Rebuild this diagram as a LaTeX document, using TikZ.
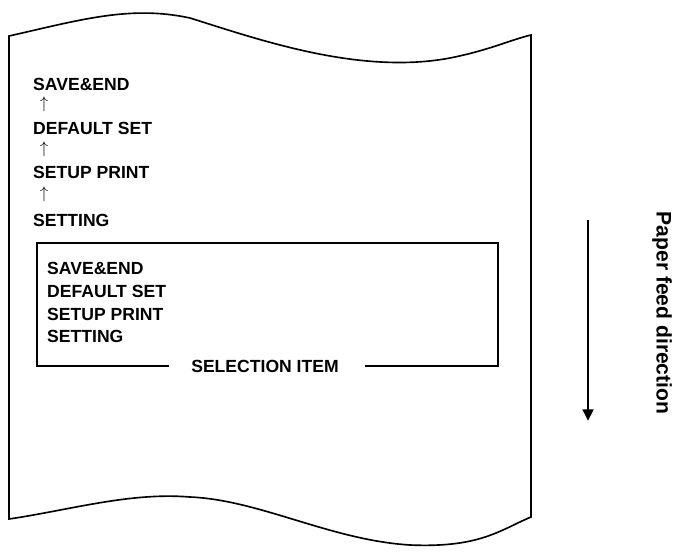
\documentclass[tikz,border=0pt]{standalone}
\usepackage{fontspec}
\setmainfont{Liberation Sans}
\usetikzlibrary{arrows.meta}
\tikzstyle{item}=[anchor=west, inner sep=0pt, font=\bfseries\fontsize{15}{17}\selectfont]
\tikzstyle{up}=[anchor=center, inner sep=0pt, font=\fontsize{14}{16}\selectfont]
\begin{document}
\begin{tikzpicture}[x=0.03cm, y=-0.03cm]
        \useasboundingbox (0,0) rectangle (678,551);
        % paper
        \draw[line width=1.4pt] (9,36) .. controls (80,20) and (130,5) .. (190,18)
            .. controls (260,40) and (360,75) .. (450,58)
            .. controls (490,50) and (510,40) .. (531,35) -- (531,517)
            .. controls (500,530) and (480,548) .. (410,545)
            .. controls (330,540) and (260,500) .. (190,497)
            .. controls (130,492) and (70,510) .. (9,519) -- cycle;
        % menu log
        \node[item] (save)    at (33,84)  {SAVE\&END};
        \node[up]   (a1)      at (44,104) {$\uparrow$};
        \node[item] (default) at (33,128) {DEFAULT SET};
        \node[up]   (a2)      at (44,149) {$\uparrow$};
        \node[item] (setup)   at (33,172) {SETUP PRINT};
        \node[up]   (a3)      at (44,194) {$\uparrow$};
        \node[item] (setting) at (33,220) {SETTING};
        % selection box
        \node[item] (sel) at (265,366) [anchor=center] {SELECTION ITEM};
        \draw[line width=0.9pt] (sel.west) ++(-22,0) coordinate (sl) -- (37,366) -- (37,243)
            -- (498,243) -- (498,366) -- ([xshift=22]sel.east |- sel) coordinate (sr);
        \node[item] (s1) at (47,268) {SAVE\&END};
        \node[item] (s2) at (47,291) {DEFAULT SET};
        \node[item] (s3) at (47,314) {SETUP PRINT};
        \node[item] (s4) at (47,336) {SETTING};
        % feed direction
        \coordinate (ftop) at (588,220);
        \coordinate (fbot) at (588,421);
        \draw[line width=2.5pt, -{Triangle[length=10pt,width=9pt]}] (ftop) -- (fbot);
        \node[item, anchor=center, rotate=-90, font=\bfseries\fontsize{18}{20}\selectfont] (feed) at (662,313) {Paper feed direction};
    \end{tikzpicture}
\end{document}
